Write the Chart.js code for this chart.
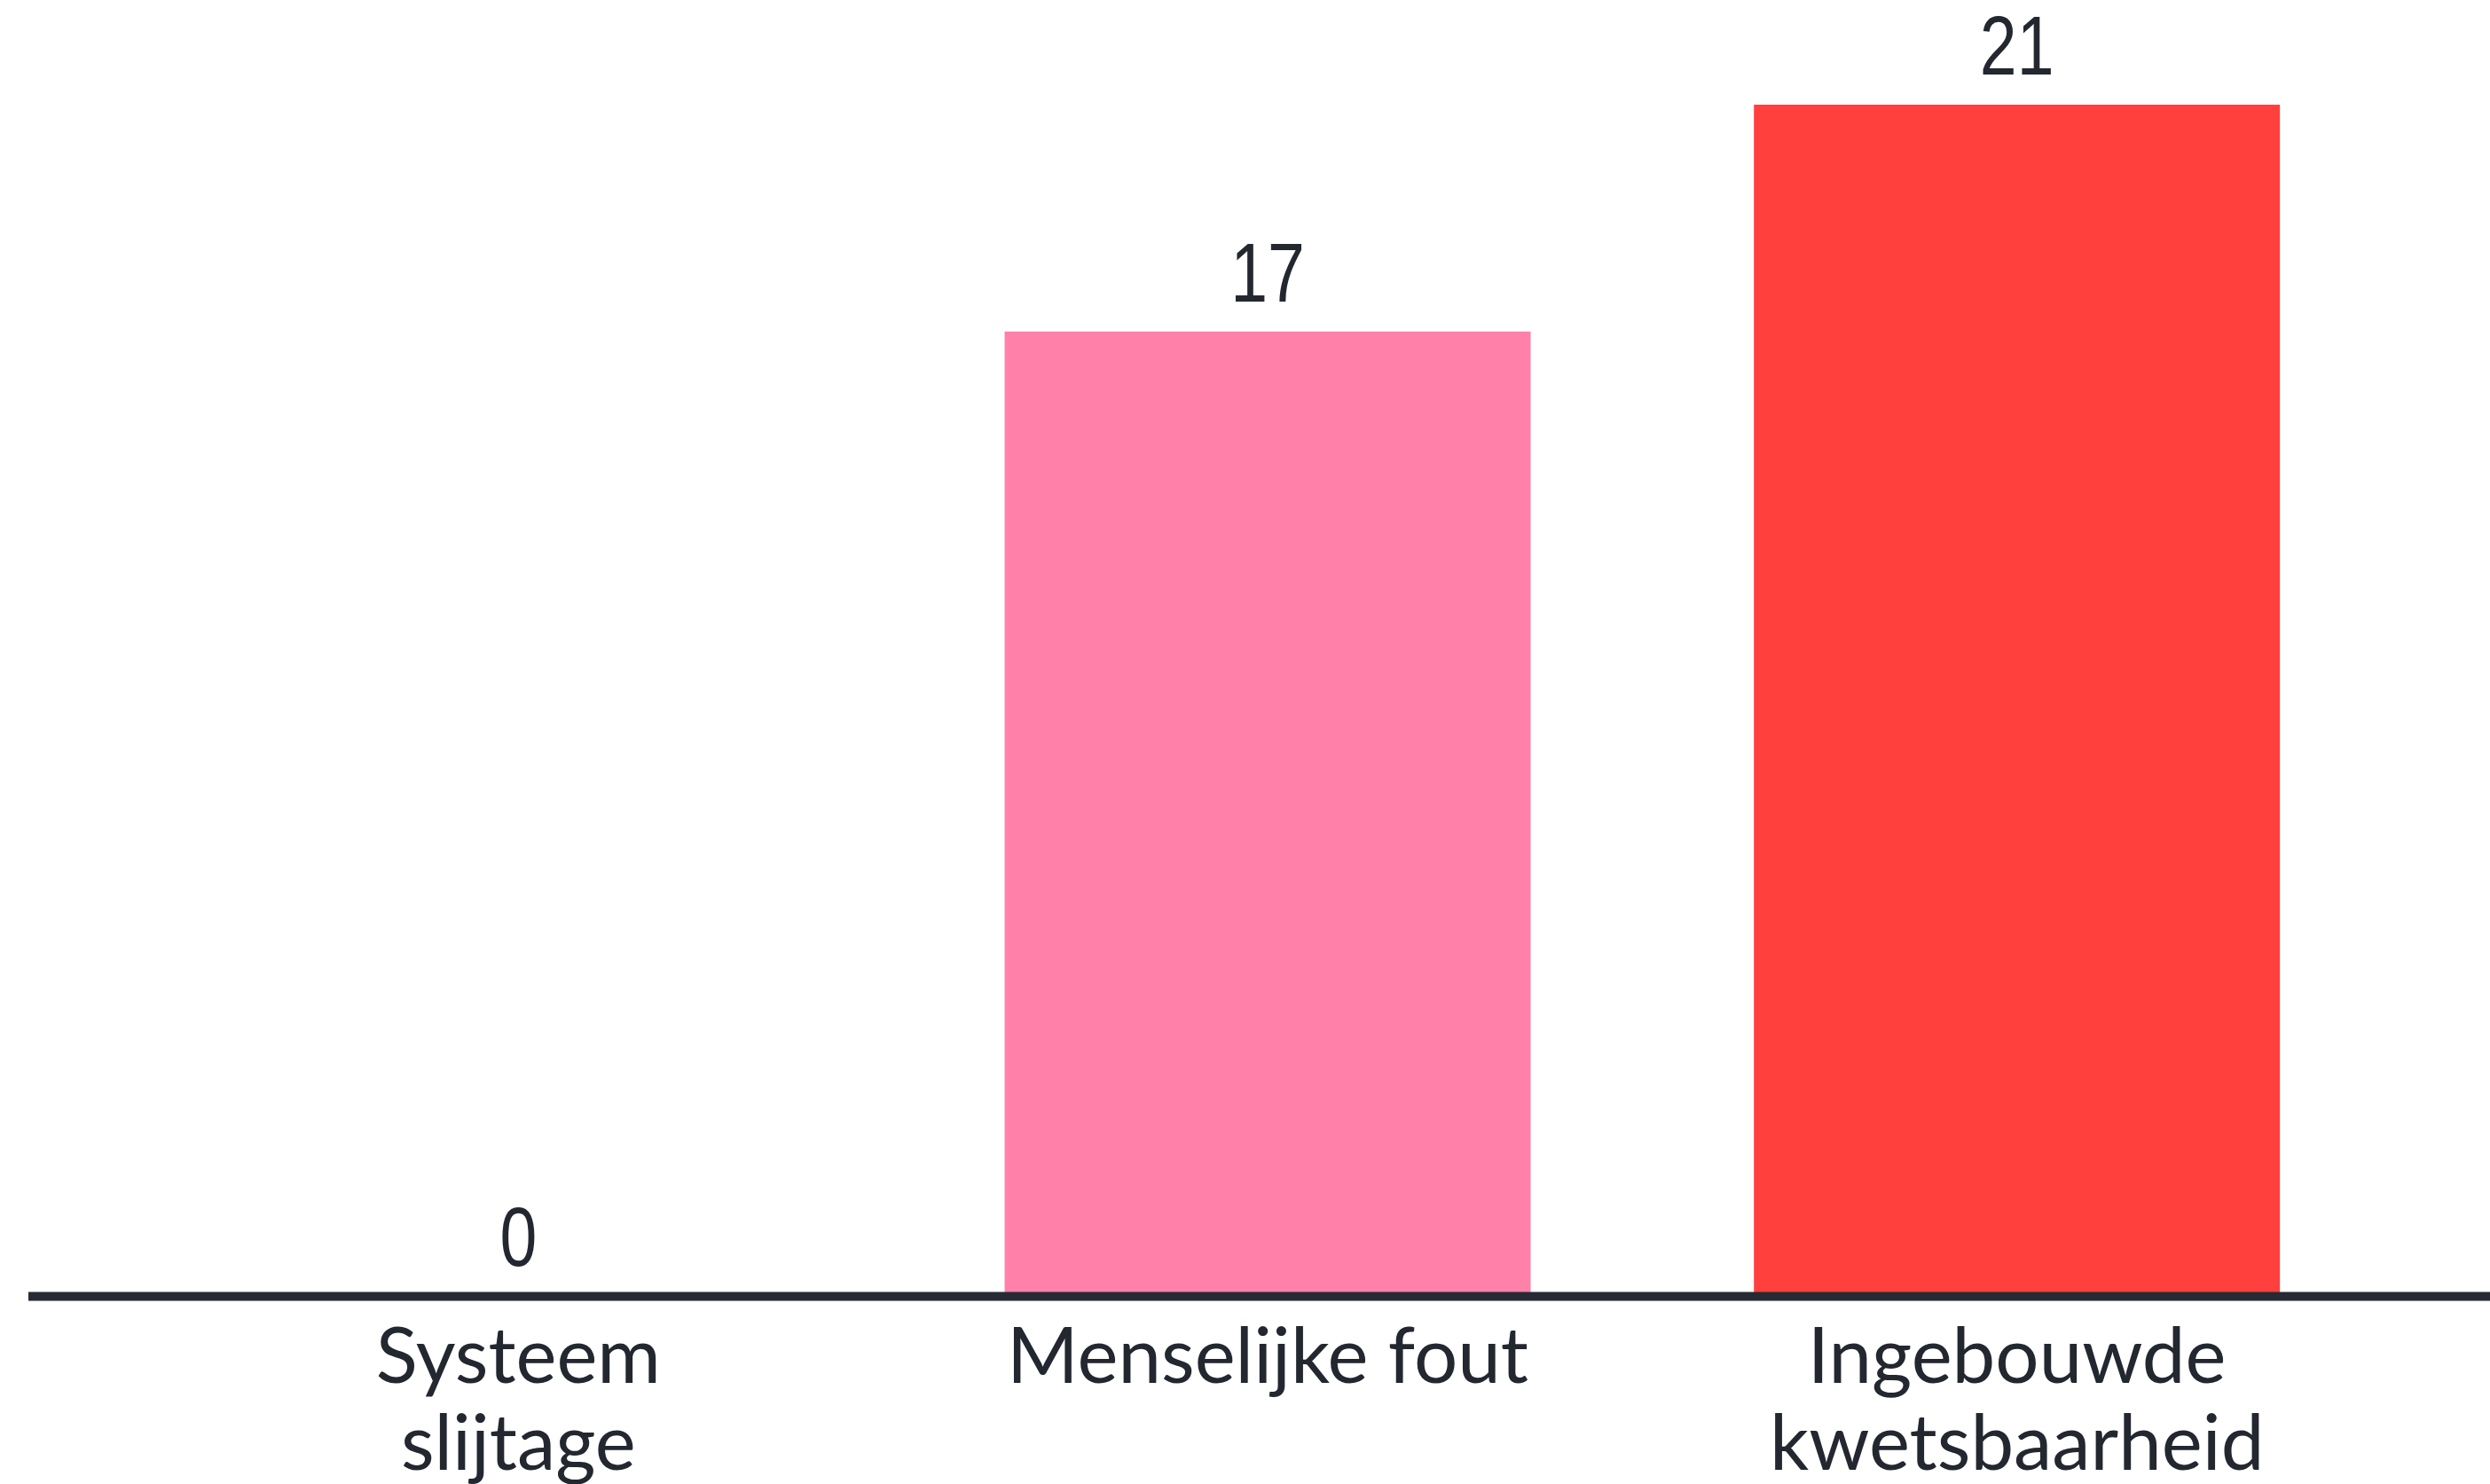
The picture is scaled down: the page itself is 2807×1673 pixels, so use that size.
<!DOCTYPE html>
<html>
<head>
<meta charset="utf-8">
<script src="https://cdn.jsdelivr.net/npm/chart.js@4/dist/chart.umd.min.js"></script>
<style>
  html, body { margin: 0; padding: 0; background: #fff; }
  #wrap { width: 2807px; height: 1673px; }
</style>
</head>
<body>
<div id="wrap"><canvas id="oorzaakChart" width="2807" height="1673"></canvas></div>
<script>
// Oorzaken van incidenten
const categorieen = [['Systeem', 'slijtage'], 'Menselijke fout', ['Ingebouwde', 'kwetsbaarheid']];
const aantallen = [0, 17, 21];
const kleuren = ['#ff80a9', '#ff80a9', '#ff403d'];

const tekstKleur = '#23272f';

// waarde boven elke staaf + basislijn over de hele breedte
const waardeLabels = {
  id: 'waardeLabels',
  afterDatasetsDraw(chart) {
    const ctx = chart.ctx;
    const meta = chart.getDatasetMeta(0);
    const y0 = chart.scales.y.getPixelForValue(0);
    ctx.save();
    ctx.strokeStyle = '#262a33';
    ctx.lineWidth = 10;
    ctx.beginPath();
    ctx.moveTo(32, y0);
    ctx.lineTo(chart.width, y0);
    ctx.stroke();

    ctx.fillStyle = tekstKleur;
    ctx.font = '94px "Liberation Sans", Arial, sans-serif';
    ctx.textAlign = 'center';
    ctx.textBaseline = 'alphabetic';
    meta.data.forEach((bar, i) => {
      // cijfers zijn smal in het origineel
      ctx.save();
      ctx.translate(bar.x, bar.y - 34);
      ctx.scale(0.8, 1);
      ctx.fillText(String(aantallen[i]), 0, 0);
      ctx.restore();
    });
    ctx.restore();
  }
};

new Chart(document.getElementById('oorzaakChart'), {
  type: 'bar',
  data: {
    labels: categorieen,
    datasets: [{
      data: aantallen,
      backgroundColor: kleuren,
      borderWidth: 0,
      categoryPercentage: 1,
      barPercentage: 0.702
    }]
  },
  options: {
    responsive: false,
    animation: false,
    layout: { padding: { left: 162, right: 111, top: 22, bottom: -25 } },
    plugins: {
      legend: { display: false },
      tooltip: { enabled: false }
    },
    scales: {
      x: {
        grid: { display: false, drawTicks: false },
        border: { display: false },
        ticks: {
          color: tekstKleur,
          padding: 20,
          maxRotation: 0,
          autoSkip: false,
          font: { family: 'Lato, "Open Sans", sans-serif', size: 87, lineHeight: 1.13 }
        }
      },
      y: {
        display: false,
        min: 0,
        max: 22.5
      }
    }
  },
  plugins: [waardeLabels]
});
</script>
</body>
</html>
